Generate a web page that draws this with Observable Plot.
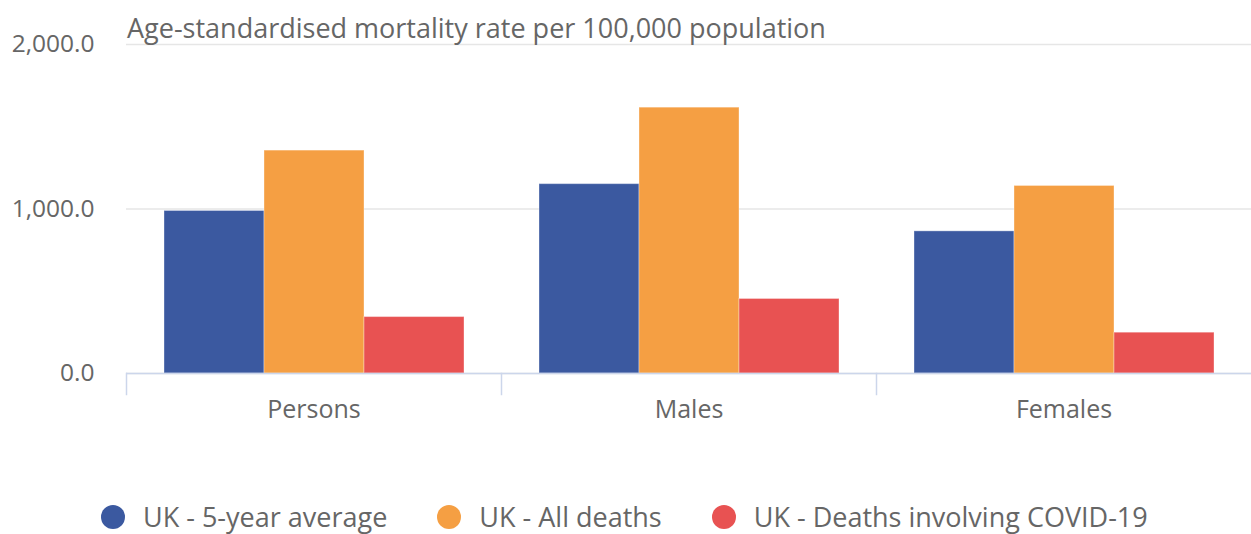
<!DOCTYPE html>
<html>
<head>
<meta charset="utf-8">
<script src="https://cdn.jsdelivr.net/npm/d3@7"></script>
<script src="https://cdn.jsdelivr.net/npm/@observablehq/plot@0.6"></script>
<style>
  body { margin: 0; background: #fff; font-family: "Open Sans", sans-serif; }
  #wrap { position: relative; width: 1251px; height: 534px; }
  #title { position: absolute; left: 127px; top: 14px; font-size: 27px; line-height: 27px; color: #666; white-space: nowrap; }
  #legend { position: absolute; left: 101px; top: 503px; display: flex; align-items: center; font-size: 27px; line-height: 27px; color: #666; white-space: nowrap; }
  .item { display: flex; align-items: center; margin-right: 50px; }
  .dot { width: 24px; height: 24px; border-radius: 50%; margin-right: 18px; }
</style>
</head>
<body>
<div id="wrap">
  <div id="chart"></div>
  <div id="title">Age-standardised mortality rate per 100,000 population</div>
  <div id="legend"></div>
</div>
<script>
const categories = ["Persons", "Males", "Females"];
const seriesNames = ["UK - 5-year average", "UK - All deaths", "UK - Deaths involving COVID-19"];
const seriesColors = ["#3b59a0", "#f59f43", "#e85252"];
const fiveYearAverage = [988, 1151, 864];
const allDeaths = [1355, 1616, 1140];
const covidDeaths = [343, 453, 248];
const yTicks = [0, 1000, 2000];

const seriesValues = [fiveYearAverage, allDeaths, covidDeaths];
const data = [];
categories.forEach((c, i) => {
  seriesNames.forEach((s, j) => data.push({category: c, series: s, value: seriesValues[j][i]}));
});

const height = 450;
const plot = Plot.plot({
  width: 1251,
  height,
  marginLeft: 126,
  marginRight: 0,
  marginTop: 44,
  marginBottom: height - 373,
  style: {fontFamily: "'Open Sans', sans-serif", color: "#666"},
  fx: {domain: categories, padding: 0, label: null},
  x: {domain: seriesNames, axis: null, paddingInner: 0, paddingOuter: 0.375},
  y: {domain: [0, 2000], label: null},
  color: {domain: seriesNames, range: seriesColors},
  marks: [
    Plot.gridY(yTicks, {stroke: "#e6e6e6", strokeOpacity: 1, strokeWidth: 1.5}),
    Plot.barY(data, {fx: "category", x: "series", y: "value", fill: "series", stroke: "#fff", strokeOpacity: 0.35, strokeWidth: 1}),
    Plot.ruleY([0], {stroke: "#ccd6eb", strokeWidth: 1.5}),
    Plot.frame({anchor: "left", stroke: "#ccd6eb", strokeWidth: 1.5, insetTop: 329, insetBottom: -21}),
    Plot.axisY(yTicks, {tickSize: 0, tickPadding: 32, fontSize: 24.5, tickFormat: d3.format(",.1f"), label: null, fill: "#666"}),
    Plot.axisFx({anchor: "bottom", tickSize: 0, tickPadding: 27, fontSize: 25, label: null, fill: "#666"})
  ]
});
document.getElementById("chart").appendChild(plot);

const legend = document.getElementById("legend");
seriesNames.forEach((s, i) => {
  const item = document.createElement("div");
  item.className = "item";
  const dot = document.createElement("div");
  dot.className = "dot";
  dot.style.background = seriesColors[i];
  const label = document.createElement("span");
  label.textContent = s;
  item.appendChild(dot);
  item.appendChild(label);
  legend.appendChild(item);
});
</script>
</body>
</html>
